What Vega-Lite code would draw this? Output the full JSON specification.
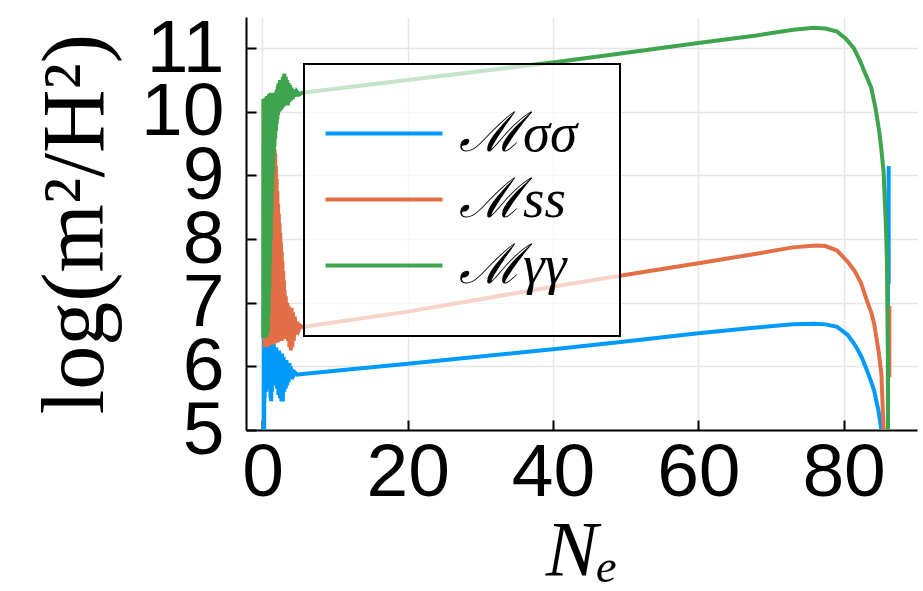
{
  "$schema": "https://vega.github.io/schema/vega-lite/v6.json",
  "width": 671,
  "height": 413,
  "autosize": {"type": "none"},
  "padding": {"left": 246, "top": 17, "right": 6, "bottom": 161},
  "background": "white",
  "config": {
    "view": {"stroke": null},
    "axis": {
      "labelFont": "Liberation Sans",
      "labelFontSize": 75,
      "labelColor": "black",
      "labelOverlap": false,
      "domainColor": "black",
      "domainWidth": 2,
      "tickColor": "black",
      "tickWidth": 2,
      "tickSize": -10,
      "gridColor": "#e6e6e6",
      "gridWidth": 1.5,
      "titleFont": "Liberation Serif",
      "titleFontSize": 78,
      "titleFontWeight": "normal",
      "titleColor": "black"
    },
    "legend": {
      "orient": "none",
      "legendX": 58,
      "legendY": 47,
      "symbolType": "M-1.92,0H2.76",
      "symbolStrokeWidth": 4,
      "symbolSize": 2500,
      "labelFont": "Liberation Serif",
      "labelFontStyle": "italic",
      "labelFontSize": 55,
      "labelColor": "black",
      "labelOffset": 58,
      "rowPadding": 10,
      "padding": 42,
      "fillColor": "rgba(255,255,255,0.7)",
      "strokeColor": "black"
    }
  },
  "data": {"values": [
    {"s":"ℳσσ","N":0.15,"v":3.5},{"s":"ℳσσ","N":0.18,"v":6.95},{"s":"ℳσσ","N":0.22,"v":4.0},{"s":"ℳσσ","N":0.26,"v":6.9},{"s":"ℳσσ","N":0.3,"v":5.5},{"s":"ℳσσ","N":0.35,"v":6.7},{"s":"ℳσσ","N":0.4,"v":5.6},{"s":"ℳσσ","N":0.45,"v":6.6},{"s":"ℳσσ","N":0.5,"v":5.6},{"s":"ℳσσ","N":0.55,"v":6.5},{"s":"ℳσσ","N":0.6,"v":5.65},{"s":"ℳσσ","N":0.65,"v":6.5},{"s":"ℳσσ","N":0.7,"v":5.7},{"s":"ℳσσ","N":0.75,"v":6.45},{"s":"ℳσσ","N":0.8,"v":5.7},{"s":"ℳσσ","N":0.85,"v":6.45},{"s":"ℳσσ","N":0.9,"v":5.75},{"s":"ℳσσ","N":0.95,"v":6.45},{"s":"ℳσσ","N":1.0,"v":5.65},{"s":"ℳσσ","N":1.05,"v":6.4},{"s":"ℳσσ","N":1.1,"v":5.5},{"s":"ℳσσ","N":1.15,"v":6.4},{"s":"ℳσσ","N":1.2,"v":5.45},{"s":"ℳσσ","N":1.25,"v":6.4},{"s":"ℳσσ","N":1.3,"v":5.6},{"s":"ℳσσ","N":1.35,"v":6.4},{"s":"ℳσσ","N":1.4,"v":5.7},{"s":"ℳσσ","N":1.45,"v":6.35},{"s":"ℳσσ","N":1.5,"v":5.75},{"s":"ℳσσ","N":1.55,"v":6.35},{"s":"ℳσσ","N":1.6,"v":5.75},{"s":"ℳσσ","N":1.7,"v":6.3},{"s":"ℳσσ","N":1.8,"v":5.7},{"s":"ℳσσ","N":1.9,"v":6.3},{"s":"ℳσσ","N":2.0,"v":5.65},{"s":"ℳσσ","N":2.1,"v":6.25},{"s":"ℳσσ","N":2.2,"v":5.55},{"s":"ℳσσ","N":2.3,"v":6.25},{"s":"ℳσσ","N":2.4,"v":5.5},{"s":"ℳσσ","N":2.5,"v":6.2},{"s":"ℳσσ","N":2.6,"v":5.45},{"s":"ℳσσ","N":2.7,"v":6.2},{"s":"ℳσσ","N":2.8,"v":5.45},{"s":"ℳσσ","N":2.9,"v":6.15},{"s":"ℳσσ","N":3.0,"v":5.6},{"s":"ℳσσ","N":3.1,"v":6.1},{"s":"ℳσσ","N":3.2,"v":5.65},{"s":"ℳσσ","N":3.3,"v":6.1},{"s":"ℳσσ","N":3.4,"v":5.7},{"s":"ℳσσ","N":3.5,"v":6.05},{"s":"ℳσσ","N":3.6,"v":5.75},{"s":"ℳσσ","N":3.7,"v":6.05},{"s":"ℳσσ","N":3.8,"v":5.8},{"s":"ℳσσ","N":3.9,"v":6.0},{"s":"ℳσσ","N":4.0,"v":5.82},{"s":"ℳσσ","N":4.15,"v":5.95},{"s":"ℳσσ","N":4.3,"v":5.86},{"s":"ℳσσ","N":4.5,"v":5.9},{"s":"ℳσσ","N":4.8,"v":5.87},{"s":"ℳσσ","N":5.5,"v":5.88},{"s":"ℳσσ","N":20,"v":6.04},{"s":"ℳσσ","N":41,"v":6.28},{"s":"ℳσσ","N":49,"v":6.38},{"s":"ℳσσ","N":60,"v":6.52},{"s":"ℳσσ","N":68,"v":6.61},{"s":"ℳσσ","N":73,"v":6.66},{"s":"ℳσσ","N":76,"v":6.67},{"s":"ℳσσ","N":77.5,"v":6.66},{"s":"ℳσσ","N":79.1,"v":6.62},{"s":"ℳσσ","N":80.5,"v":6.5},{"s":"ℳσσ","N":81.3,"v":6.38},{"s":"ℳσσ","N":81.9,"v":6.27},{"s":"ℳσσ","N":82.5,"v":6.14},{"s":"ℳσσ","N":83,"v":6.0},{"s":"ℳσσ","N":83.6,"v":5.82},{"s":"ℳσσ","N":84.2,"v":5.62},{"s":"ℳσσ","N":84.8,"v":5.3},{"s":"ℳσσ","N":85.2,"v":5.0},{"s":"ℳσσ","N":85.4,"v":4.0},{"s":"ℳσσ","N":86.1,"v":4.0},{"s":"ℳσσ","N":86.1,"v":7.3},{"s":"ℳσσ","N":86.2,"v":9.15},{"s":"ℳσσ","N":86.2,"v":7.3},

    {"s":"ℳss","N":0.3,"v":6.3},{"s":"ℳss","N":0.35,"v":7.5},{"s":"ℳss","N":0.4,"v":6.3},{"s":"ℳss","N":0.45,"v":8.5},{"s":"ℳss","N":0.5,"v":6.3},{"s":"ℳss","N":0.55,"v":9.0},{"s":"ℳss","N":0.6,"v":6.3},{"s":"ℳss","N":0.65,"v":9.3},{"s":"ℳss","N":0.7,"v":6.32},{"s":"ℳss","N":0.75,"v":9.4},{"s":"ℳss","N":0.8,"v":6.32},{"s":"ℳss","N":0.85,"v":9.45},{"s":"ℳss","N":0.9,"v":6.33},{"s":"ℳss","N":0.95,"v":9.5},{"s":"ℳss","N":1.0,"v":6.33},{"s":"ℳss","N":1.05,"v":9.5},{"s":"ℳss","N":1.1,"v":6.33},{"s":"ℳss","N":1.15,"v":9.5},{"s":"ℳss","N":1.2,"v":6.34},{"s":"ℳss","N":1.25,"v":9.5},{"s":"ℳss","N":1.3,"v":6.34},{"s":"ℳss","N":1.35,"v":9.5},{"s":"ℳss","N":1.4,"v":6.35},{"s":"ℳss","N":1.45,"v":9.48},{"s":"ℳss","N":1.5,"v":6.35},{"s":"ℳss","N":1.55,"v":9.45},{"s":"ℳss","N":1.6,"v":6.36},{"s":"ℳss","N":1.65,"v":9.42},{"s":"ℳss","N":1.7,"v":6.36},{"s":"ℳss","N":1.75,"v":9.35},{"s":"ℳss","N":1.8,"v":6.37},{"s":"ℳss","N":1.85,"v":9.15},{"s":"ℳss","N":1.9,"v":6.37},{"s":"ℳss","N":1.95,"v":8.95},{"s":"ℳss","N":2.0,"v":6.38},{"s":"ℳss","N":2.05,"v":8.75},{"s":"ℳss","N":2.1,"v":6.38},{"s":"ℳss","N":2.15,"v":8.55},{"s":"ℳss","N":2.2,"v":6.39},{"s":"ℳss","N":2.25,"v":8.4},{"s":"ℳss","N":2.3,"v":6.4},{"s":"ℳss","N":2.35,"v":8.25},{"s":"ℳss","N":2.4,"v":6.4},{"s":"ℳss","N":2.45,"v":8.1},{"s":"ℳss","N":2.5,"v":6.4},{"s":"ℳss","N":2.55,"v":7.95},{"s":"ℳss","N":2.6,"v":6.4},{"s":"ℳss","N":2.65,"v":7.8},{"s":"ℳss","N":2.7,"v":6.42},{"s":"ℳss","N":2.75,"v":7.65},{"s":"ℳss","N":2.8,"v":6.42},{"s":"ℳss","N":2.85,"v":7.5},{"s":"ℳss","N":2.9,"v":6.43},{"s":"ℳss","N":2.95,"v":7.35},{"s":"ℳss","N":3.0,"v":6.44},{"s":"ℳss","N":3.05,"v":7.2},{"s":"ℳss","N":3.1,"v":6.44},{"s":"ℳss","N":3.2,"v":7.1},{"s":"ℳss","N":3.3,"v":6.45},{"s":"ℳss","N":3.4,"v":7.0},{"s":"ℳss","N":3.5,"v":6.4},{"s":"ℳss","N":3.6,"v":6.95},{"s":"ℳss","N":3.7,"v":6.3},{"s":"ℳss","N":3.8,"v":6.9},{"s":"ℳss","N":3.9,"v":6.25},{"s":"ℳss","N":4.0,"v":6.92},{"s":"ℳss","N":4.1,"v":6.3},{"s":"ℳss","N":4.2,"v":6.85},{"s":"ℳss","N":4.3,"v":6.4},{"s":"ℳss","N":4.45,"v":6.78},{"s":"ℳss","N":4.6,"v":6.5},{"s":"ℳss","N":4.8,"v":6.7},{"s":"ℳss","N":5.0,"v":6.58},{"s":"ℳss","N":5.2,"v":6.64},{"s":"ℳss","N":5.5,"v":6.62},{"s":"ℳss","N":20,"v":6.86},{"s":"ℳss","N":41,"v":7.27},{"s":"ℳss","N":49,"v":7.42},{"s":"ℳss","N":60,"v":7.62},{"s":"ℳss","N":68,"v":7.77},{"s":"ℳss","N":73,"v":7.87},{"s":"ℳss","N":76.3,"v":7.9},{"s":"ℳss","N":77.5,"v":7.89},{"s":"ℳss","N":79.1,"v":7.82},{"s":"ℳss","N":80.5,"v":7.65},{"s":"ℳss","N":81.5,"v":7.5},{"s":"ℳss","N":82.4,"v":7.31},{"s":"ℳss","N":83.3,"v":7.0},{"s":"ℳss","N":83.8,"v":6.85},{"s":"ℳss","N":84.2,"v":6.67},{"s":"ℳss","N":84.8,"v":6.25},{"s":"ℳss","N":85.2,"v":5.88},{"s":"ℳss","N":85.5,"v":5.0},{"s":"ℳss","N":85.7,"v":4.0},{"s":"ℳss","N":86.1,"v":4.0},{"s":"ℳss","N":86.1,"v":5.8},{"s":"ℳss","N":86.3,"v":6.95},{"s":"ℳss","N":86.3,"v":5.83},

    {"s":"ℳγγ","N":0.1,"v":6.45},{"s":"ℳγγ","N":0.12,"v":10.2},{"s":"ℳγγ","N":0.15,"v":6.45},{"s":"ℳγγ","N":0.2,"v":10.2},{"s":"ℳγγ","N":0.25,"v":6.45},{"s":"ℳγγ","N":0.3,"v":10.2},{"s":"ℳγγ","N":0.35,"v":6.45},{"s":"ℳγγ","N":0.4,"v":10.22},{"s":"ℳγγ","N":0.45,"v":6.46},{"s":"ℳγγ","N":0.5,"v":10.22},{"s":"ℳγγ","N":0.55,"v":6.47},{"s":"ℳγγ","N":0.6,"v":10.25},{"s":"ℳγγ","N":0.65,"v":6.5},{"s":"ℳγγ","N":0.7,"v":10.25},{"s":"ℳγγ","N":0.75,"v":6.55},{"s":"ℳγγ","N":0.8,"v":10.25},{"s":"ℳγγ","N":0.85,"v":6.8},{"s":"ℳγγ","N":0.9,"v":10.28},{"s":"ℳγγ","N":0.95,"v":7.2},{"s":"ℳγγ","N":1.0,"v":10.28},{"s":"ℳγγ","N":1.05,"v":7.6},{"s":"ℳγγ","N":1.1,"v":10.3},{"s":"ℳγγ","N":1.15,"v":8.0},{"s":"ℳγγ","N":1.2,"v":10.3},{"s":"ℳγγ","N":1.25,"v":8.4},{"s":"ℳγγ","N":1.3,"v":10.3},{"s":"ℳγγ","N":1.35,"v":8.75},{"s":"ℳγγ","N":1.4,"v":10.3},{"s":"ℳγγ","N":1.45,"v":9.05},{"s":"ℳγγ","N":1.5,"v":10.3},{"s":"ℳγγ","N":1.55,"v":9.3},{"s":"ℳγγ","N":1.6,"v":10.3},{"s":"ℳγγ","N":1.65,"v":9.45},{"s":"ℳγγ","N":1.7,"v":10.3},{"s":"ℳγγ","N":1.75,"v":9.58},{"s":"ℳγγ","N":1.8,"v":10.3},{"s":"ℳγγ","N":1.85,"v":9.7},{"s":"ℳγγ","N":1.9,"v":10.32},{"s":"ℳγγ","N":1.95,"v":9.8},{"s":"ℳγγ","N":2.0,"v":10.35},{"s":"ℳγγ","N":2.05,"v":9.88},{"s":"ℳγγ","N":2.1,"v":10.4},{"s":"ℳγγ","N":2.15,"v":9.95},{"s":"ℳγγ","N":2.2,"v":10.45},{"s":"ℳγγ","N":2.3,"v":10.0},{"s":"ℳγγ","N":2.4,"v":10.5},{"s":"ℳγγ","N":2.5,"v":10.02},{"s":"ℳγγ","N":2.6,"v":10.45},{"s":"ℳγγ","N":2.7,"v":10.05},{"s":"ℳγγ","N":2.8,"v":10.55},{"s":"ℳγγ","N":2.9,"v":10.08},{"s":"ℳγγ","N":3.0,"v":10.6},{"s":"ℳγγ","N":3.1,"v":10.1},{"s":"ℳγγ","N":3.2,"v":10.55},{"s":"ℳγγ","N":3.3,"v":10.12},{"s":"ℳγγ","N":3.4,"v":10.5},{"s":"ℳγγ","N":3.5,"v":10.1},{"s":"ℳγγ","N":3.6,"v":10.45},{"s":"ℳγγ","N":3.7,"v":10.15},{"s":"ℳγγ","N":3.8,"v":10.42},{"s":"ℳγγ","N":3.9,"v":10.18},{"s":"ℳγγ","N":4.0,"v":10.38},{"s":"ℳγγ","N":4.15,"v":10.2},{"s":"ℳγγ","N":4.3,"v":10.35},{"s":"ℳγγ","N":4.5,"v":10.24},{"s":"ℳγγ","N":4.7,"v":10.32},{"s":"ℳγγ","N":5.0,"v":10.27},{"s":"ℳγγ","N":5.5,"v":10.3},{"s":"ℳγγ","N":20,"v":10.5},{"s":"ℳγγ","N":41,"v":10.79},{"s":"ℳγγ","N":48.3,"v":10.9},{"s":"ℳγγ","N":60,"v":11.08},{"s":"ℳγγ","N":68,"v":11.2},{"s":"ℳγγ","N":73.1,"v":11.29},{"s":"ℳγγ","N":75.9,"v":11.32},{"s":"ℳγγ","N":77.5,"v":11.31},{"s":"ℳγγ","N":79.1,"v":11.26},{"s":"ℳγγ","N":80.3,"v":11.15},{"s":"ℳγγ","N":81.4,"v":11.0},{"s":"ℳγγ","N":82.3,"v":10.79},{"s":"ℳγγ","N":82.9,"v":10.62},{"s":"ℳγγ","N":83.8,"v":10.38},{"s":"ℳγγ","N":84.4,"v":10.05},{"s":"ℳγγ","N":84.9,"v":9.69},{"s":"ℳγγ","N":85.2,"v":9.4},{"s":"ℳγγ","N":85.5,"v":9.06},{"s":"ℳγγ","N":85.8,"v":8.26},{"s":"ℳγγ","N":85.95,"v":7.7},{"s":"ℳγγ","N":86.0,"v":7.2},{"s":"ℳγγ","N":86.1,"v":6.14},{"s":"ℳγγ","N":86.12,"v":4.0}
  ]},
  "encoding": {
    "x": {
      "field": "N", "type": "quantitative",
      "scale": {"domain": [-2.27, 90.1], "nice": false, "zero": false},
      "axis": {"values": [0, 20, 40, 60, 80], "title": "Nₑ", "titleFontStyle": "italic", "labelPadding": 16, "titlePadding": 2}
    },
    "y": {
      "field": "v", "type": "quantitative",
      "scale": {"domain": [5, 11.49], "nice": false, "zero": false},
      "axis": {"values": [5, 6, 7, 8, 9, 10, 11], "title": "log(m²/H²)", "titleFontSize": 88, "labelPadding": 32, "titlePadding": 20}
    },
    "color": {
      "field": "s", "type": "nominal",
      "scale": {"domain": ["ℳσσ", "ℳss", "ℳγγ"], "range": ["#009AFA", "#E36F47", "#3EA44E"]},
      "legend": {"title": null, "encode": {"legend": {"update": {"strokeWidth": {"value": 2}}}}}
    },
    "order": {"value": null}
  },
  "layer": [
    {"transform": [{"filter": {"field": "s", "equal": "ℳσσ"}}], "mark": {"type": "line", "strokeWidth": 4, "clip": true}},
    {"transform": [{"filter": {"field": "s", "equal": "ℳss"}}], "mark": {"type": "line", "strokeWidth": 4, "clip": true}},
    {"transform": [{"filter": {"field": "s", "equal": "ℳγγ"}}], "mark": {"type": "line", "strokeWidth": 4, "clip": true}}
  ]
}
